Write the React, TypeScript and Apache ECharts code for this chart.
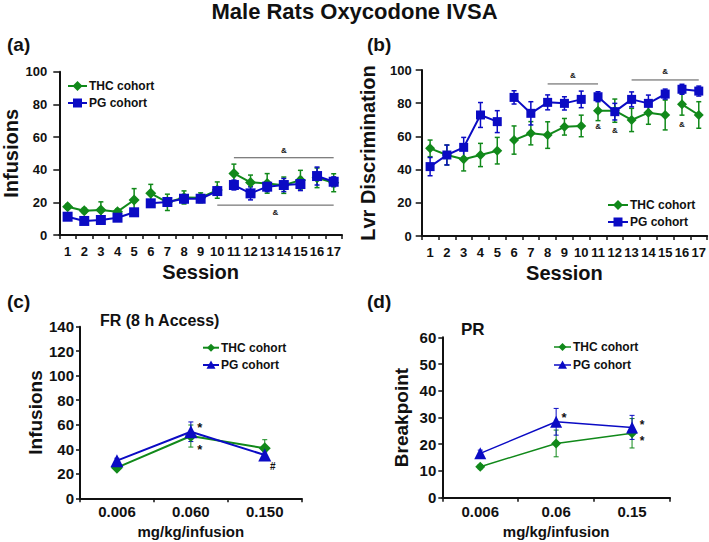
import React, { useEffect, useRef } from 'react';
import * as echarts from 'echarts';

// ---------- data ----------
const sessions = ['1', '2', '3', '4', '5', '6', '7', '8', '9', '10', '11', '12', '13', '14', '15', '16', '17'];
// sessions grouped in weekly runs (index ranges, inclusive)
const weekRuns = [[0, 4], [5, 9], [10, 14], [15, 16]];

const thcInfusions = [17.3, 14.9, 15.3, 14.3, 21.4, 25.5, 20.0, 23.0, 22.8, 27.5, 37.7, 32.2, 31.6, 30.5, 33.6, 35.0, 32.0];
const thcInfusionsSem = [1.5, 1.5, 5.0, 1.5, 7.0, 5.5, 5.0, 4.0, 3.0, 5.0, 5.7, 4.5, 6.0, 5.0, 6.0, 6.0, 5.5];
const pgInfusions = [11.2, 8.6, 9.2, 10.6, 13.9, 19.4, 20.2, 22.2, 22.2, 26.9, 30.6, 25.5, 29.6, 30.6, 31.2, 36.1, 32.6];
const pgInfusionsSem = [1.5, 1.5, 1.5, 1.5, 2.0, 2.0, 2.0, 2.5, 2.0, 2.5, 3.0, 4.0, 3.0, 4.0, 4.0, 5.5, 3.0];

const thcLvr = [52.8, 48.8, 46.2, 48.8, 51.4, 57.8, 61.9, 60.8, 65.8, 66.3, 75.5, 75.5, 69.9, 74.3, 72.9, 79.3, 72.9];
const thcLvrSem = [5.0, 6.0, 7.0, 7.0, 8.0, 8.5, 7.0, 8.0, 5.0, 6.5, 6.0, 7.0, 7.0, 7.0, 9.0, 6.5, 8.0];
const pgLvr = [41.8, 48.8, 53.4, 72.9, 68.9, 83.5, 73.9, 80.5, 79.9, 82.3, 83.9, 74.9, 82.3, 79.9, 85.5, 88.4, 87.3];
const pgLvrSem = [5.5, 6.0, 6.0, 7.5, 6.6, 4.0, 7.0, 4.5, 4.0, 5.0, 3.0, 5.0, 4.5, 5.0, 3.0, 3.0, 3.0];

const dosesFR = ['0.006', '0.060', '0.150'];
const thcFR = [25.0, 50.8, 40.8];
const thcFRSem = [2.0, 9.0, 7.0];
const pgFR = [30.7, 54.3, 35.3];
const pgFRSem = [2.0, 8.0, 2.5];

const dosesPR = ['0.006', '0.06', '0.15'];
const thcPR = [11.6, 20.3, 24.1];
const thcPRSem = [0.8, 5.0, 5.5];
const pgPR = [16.6, 28.4, 26.3];
const pgPRSem = [1.2, 5.0, 4.5];

// significance brackets: [first session index, last session index, level]
const bracketsA = [[9, 16, 18.3], [10, 16, 47.3]];
const bracketsB = [[7, 10, 91.6], [12, 16, 94.0]];
// single "&" marks in (b): [session index, level]
const ampMarksB = [[10, 66], [11, 63.5], [15, 67]];
// "*" / "#" marks: [dose index, value of anchored point, symbol]
const marksFR = [[1, 54.3, '*'], [1, 50.8, '*'], [2, 35.3, '#']];
const marksPR = [[1, 28.4, '*'], [2, 26.3, '*'], [2, 24.1, '*']];

// ---------- styling ----------
const FONT = '"Liberation Sans", Arial, Helvetica, sans-serif';
const GREEN = '#11891a';
const BLUE = '#0b0bc4';
const INK = '#111111';

function lineRuns(vals: number[], runs: number[][], symbol: string, size: any, color: string, xi: number, lw: number, z: number) {
  return runs.map(([a, b]) => ({
    type: 'line',
    xAxisIndex: xi,
    yAxisIndex: xi,
    data: vals.map((v, i) => (i >= a && i <= b ? v : '-')),
    symbol,
    symbolSize: size,
    showSymbol: true,
    showAllSymbol: true,
    connectNulls: false,
    itemStyle: { color },
    lineStyle: { color, width: lw },
    z,
    silent: true,
  }));
}

function errorBars(vals: number[], sems: number[], color: string, xi: number, cap: number, lw: number) {
  return {
    type: 'custom',
    xAxisIndex: xi,
    yAxisIndex: xi,
    z: 1,
    silent: true,
    data: vals.map((v, i) => [i, v - sems[i], v + sems[i]]),
    encode: { x: 0, y: [1, 2] },
    renderItem: (params: any, api: any) => {
      const lo = api.coord([api.value(0), api.value(1)]);
      const hi = api.coord([api.value(0), api.value(2)]);
      const x = lo[0];
      const st = { stroke: color, lineWidth: lw };
      return {
        type: 'group',
        children: [
          { type: 'line', shape: { x1: x, y1: lo[1], x2: x, y2: hi[1] }, style: st },
          { type: 'line', shape: { x1: x - cap / 2, y1: hi[1], x2: x + cap / 2, y2: hi[1] }, style: st },
          { type: 'line', shape: { x1: x - cap / 2, y1: lo[1], x2: x + cap / 2, y2: lo[1] }, style: st },
        ],
      };
    },
  };
}

function brackets(items: number[][], xi: number, ampOffset: number[]) {
  return {
    type: 'custom',
    xAxisIndex: xi,
    yAxisIndex: xi,
    z: 2,
    silent: true,
    data: items.map((it, k) => [it[0], it[1], it[2], k]),
    renderItem: (params: any, api: any) => {
      const p0 = api.coord([api.value(0), api.value(2)]);
      const p1 = api.coord([api.value(1), api.value(2)]);
      const dy = ampOffset[api.value(3)];
      return {
        type: 'group',
        children: [
          { type: 'line', shape: { x1: p0[0], y1: p0[1], x2: p1[0], y2: p1[1] }, style: { stroke: '#555', lineWidth: 1 } },
          {
            type: 'text',
            x: (p0[0] + p1[0]) / 2,
            y: p0[1] + dy,
            style: { text: '&', fontSize: 8, fontWeight: 'bold', fontFamily: FONT, fill: INK, align: 'center', verticalAlign: 'middle' },
          },
        ],
      };
    },
  };
}

// offsets: [dx, dy, fontSize] per mark
function textMarks(items: any[], xi: number, offsets: number[][]) {
  return {
    type: 'custom',
    xAxisIndex: xi,
    yAxisIndex: xi,
    z: 5,
    silent: true,
    data: items.map((it, k) => [it[0], it[1], k]),
    renderItem: (params: any, api: any) => {
      const p = api.coord([api.value(0), api.value(1)]);
      const k = api.value(2);
      const off = offsets[k] || [0, 0, 10];
      const t = items[k].length > 2 ? items[k][2] : '&';
      return {
        type: 'text',
        x: p[0] + off[0],
        y: p[1] + off[1],
        style: { text: t, fontSize: off[2], fontWeight: 'bold', fontFamily: FONT, fill: INK, align: 'center', verticalAlign: 'middle' },
      };
    },
  };
}

function legendItem(x0: number, y: number, len: number, color: string, kind: string, size: number, text: string, fs: number, lw: number) {
  const cx = x0 + len / 2;
  const h = size / 2;
  let sym: any;
  if (kind === 'diamond') {
    sym = { type: 'polygon', shape: { points: [[cx, y - h], [cx + h, y], [cx, y + h], [cx - h, y]] }, style: { fill: color } };
  } else if (kind === 'rect') {
    sym = { type: 'rect', shape: { x: cx - h, y: y - h, width: size, height: size }, style: { fill: color } };
  } else {
    sym = { type: 'polygon', shape: { points: [[cx, y - h], [cx + h, y + h * 0.85], [cx - h, y + h * 0.85]] }, style: { fill: color } };
  }
  return [
    { type: 'line', shape: { x1: x0, y1: y, x2: x0 + len, y2: y }, style: { stroke: color, lineWidth: lw } },
    sym,
    {
      type: 'text',
      x: x0 + len + 2,
      y,
      style: { text, fontSize: fs, fontWeight: 'bold', fontFamily: FONT, fill: INK, align: 'left', verticalAlign: 'middle' },
    },
  ];
}

function txt(x: number, y: number, text: string, fs: number) {
  return {
    type: 'text',
    x,
    y,
    style: { text, fontSize: fs, fontWeight: 'bold', fontFamily: FONT, fill: INK, align: 'left', verticalAlign: 'middle' },
  };
}

function xAxisCfg(gi: number, data: string[], name: string, labelFs: number, nameFs: number, nameGap: number, margin: number) {
  return {
    gridIndex: gi,
    type: 'category',
    data,
    boundaryGap: true,
    name,
    nameLocation: 'middle',
    nameGap,
    nameTextStyle: { fontSize: nameFs, fontWeight: 'bold', fontFamily: FONT, color: INK },
    axisLine: { show: true, lineStyle: { color: INK, width: 2 } },
    axisTick: { show: true, length: 4, lineStyle: { color: INK, width: 1.5 } },
    axisLabel: { interval: 0, fontSize: labelFs, fontWeight: 'bold', fontFamily: FONT, color: INK, margin },
    splitLine: { show: false },
  };
}

function yAxisCfg(gi: number, max: number, interval: number, name: string, labelFs: number, nameFs: number, nameGap: number, margin: number, tickLen: number) {
  return {
    gridIndex: gi,
    type: 'value',
    min: 0,
    max,
    interval,
    name,
    nameLocation: 'middle',
    nameGap,
    nameTextStyle: { fontSize: nameFs, fontWeight: 'bold', fontFamily: FONT, color: INK },
    axisLine: { show: true, lineStyle: { color: INK, width: 2 } },
    axisTick: { show: true, length: tickLen, lineStyle: { color: INK, width: 1.5 } },
    axisLabel: { fontSize: labelFs, fontWeight: 'bold', fontFamily: FONT, color: INK, margin },
    splitLine: { show: false },
  };
}

export default function App() {
  const ref = useRef<HTMLDivElement>(null);

  useEffect(() => {
    if (!ref.current) return;
    const chart = echarts.init(ref.current, null, { renderer: 'svg' });

    const series: any[] = [
      // (a)
      errorBars(thcInfusions, thcInfusionsSem, GREEN, 0, 5, 1.5),
      errorBars(pgInfusions, pgInfusionsSem, BLUE, 0, 5, 1.5),
      ...lineRuns(thcInfusions, weekRuns, 'diamond', 11, GREEN, 0, 2, 3),
      ...lineRuns(pgInfusions, weekRuns, 'rect', 10, BLUE, 0, 2, 4),
      brackets(bracketsA, 0, [7, -7]),
      // (b)
      errorBars(thcLvr, thcLvrSem, GREEN, 1, 5, 1.5),
      errorBars(pgLvr, pgLvrSem, BLUE, 1, 5, 1.5),
      ...lineRuns(thcLvr, weekRuns, 'diamond', 10, GREEN, 1, 2, 3),
      ...lineRuns(pgLvr, weekRuns, 'rect', 9, BLUE, 1, 2, 4),
      brackets(bracketsB, 1, [-8, -8]),
      textMarks(ampMarksB, 1, [[0, 0, 8], [0, 0, 8], [0, 0, 8]]),
      // (c)
      errorBars(thcFR, thcFRSem, GREEN, 2, 5, 1),
      errorBars(pgFR, pgFRSem, BLUE, 2, 5, 1),
      ...lineRuns(thcFR, [[0, 2]], 'diamond', 12, GREEN, 2, 2, 3),
      ...lineRuns(pgFR, [[0, 2]], 'triangle', 13, BLUE, 2, 2, 4),
      textMarks(marksFR, 2, [[9, -4, 13], [9, 13, 13], [8, 11, 10]]),
      // (d)
      errorBars(thcPR, thcPRSem, GREEN, 3, 5, 1),
      errorBars(pgPR, pgPRSem, BLUE, 3, 5, 1),
      ...lineRuns(thcPR, [[0, 2]], 'diamond', 10, GREEN, 3, 1.5, 3),
      ...lineRuns(pgPR, [[0, 2]], 'triangle', 12, BLUE, 3, 1.5, 4),
      textMarks(marksPR, 3, [[8, -4, 13], [10, -2.5, 12], [10, 8, 12]]),
    ];

    const graphic: any[] = [
      txt(7, 44, '(a)', 19),
      txt(367, 44, '(b)', 19),
      txt(7, 301, '(c)', 19),
      txt(367, 301, '(d)', 19),
      txt(100, 320, 'FR (8 h Access)', 16),
      txt(461, 329, 'PR', 17),
      ...legendItem(68, 86, 19, GREEN, 'diamond', 10, 'THC cohort', 12, 2),
      ...legendItem(68, 103, 19, BLUE, 'rect', 9, 'PG cohort', 12, 2),
      ...legendItem(608, 205, 20, GREEN, 'diamond', 10, 'THC cohort', 12, 2),
      ...legendItem(608, 222, 20, BLUE, 'rect', 9, 'PG cohort', 12, 2),
      ...legendItem(203, 347.7, 16, GREEN, 'diamond', 8, 'THC cohort', 12, 2),
      ...legendItem(203, 365, 16, BLUE, 'triangle', 9, 'PG cohort', 12, 2),
      ...legendItem(554, 347, 17, GREEN, 'diamond', 8, 'THC cohort', 12, 1.5),
      ...legendItem(554, 365, 17, BLUE, 'triangle', 9, 'PG cohort', 12, 1.5),
    ];

    chart.setOption({
      animation: false,
      backgroundColor: '#ffffff',
      textStyle: { fontFamily: FONT },
      title: {
        text: 'Male Rats Oxycodone IVSA',
        left: 'center',
        top: 0,
        padding: 0,
        textStyle: { fontSize: 22, fontWeight: 'bold', fontFamily: FONT, color: INK },
      },
      grid: [
        { left: 59.3, top: 71.7, width: 282.7, height: 163.3 },
        { left: 421.7, top: 70, width: 285.6, height: 166 },
        { left: 80, top: 326.7, width: 221.7, height: 171.6 },
        { left: 442.3, top: 337.3, width: 227.7, height: 160.4 },
      ],
      xAxis: [
        xAxisCfg(0, sessions, 'Session', 13, 20, 27, 10),
        xAxisCfg(1, sessions, 'Session', 13, 20, 27, 10),
        xAxisCfg(2, dosesFR, 'mg/kg/infusion', 15, 15, 26, 6),
        xAxisCfg(3, dosesPR, 'mg/kg/infusion', 15, 15, 26, 6),
      ],
      yAxis: [
        yAxisCfg(0, 100, 20, 'Infusions', 13, 20, 38, 12, 6),
        yAxisCfg(1, 100, 20, 'Lvr Discrimination', 13, 20, 44, 10, 6),
        yAxisCfg(2, 140, 20, 'Infusions', 15, 19, 35, 6, 4),
        yAxisCfg(3, 60, 10, 'Breakpoint', 15, 19, 31, 6, 4),
      ],
      graphic,
      series,
    });

    return () => chart.dispose();
  }, []);

  return <div ref={ref} style={{ position: 'absolute', left: 0, top: 0, width: 709, height: 542 }} />;
}
